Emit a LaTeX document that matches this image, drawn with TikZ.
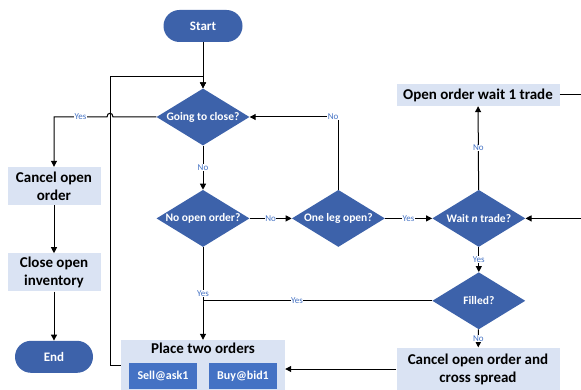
\documentclass[tikz,border=0pt]{standalone}
\usepackage{fontspec}
\setmainfont{Carlito}
\usepackage{tikz}
\usetikzlibrary{positioning, shapes.geometric, arrows.meta, calc}

\definecolor{darkblue}{RGB}{61,98,170}
\definecolor{midblue}{RGB}{68,114,196}
\definecolor{paleblue}{RGB}{218,227,243}

\begin{document}
\begin{tikzpicture}[x=1pt, y=-1pt,
            decision/.style={diamond, aspect=1.63, fill=darkblue, text=white, font=\bfseries\fontsize{11.5}{13}\selectfont, minimum width=93pt, minimum height=57pt, inner sep=0pt},
            terminal/.style={rectangle, rounded corners=16pt, fill=darkblue, text=white, font=\bfseries\fontsize{13}{15}\selectfont, minimum width=79pt, minimum height=32pt},
            process/.style={rectangle, fill=paleblue, font=\bfseries\fontsize{15}{18}\selectfont, align=center, inner sep=2pt},
            subbox/.style={rectangle, fill=midblue, text=white, font=\bfseries\fontsize{12}{14}\selectfont, minimum width=68pt, minimum height=26pt},
            flow/.style={line width=1pt, -{Triangle[length=6pt, width=6pt]}},
            plain/.style={line width=1pt},
            flowlabel/.style={fill=white, text=midblue, font=\fontsize{9}{10}\selectfont, inner sep=0.5pt}
        ]

        \useasboundingbox (0,0) rectangle (581,390);
        \clip (0,0) rectangle (581,390);

        % Knoten
        \node[terminal] (start) at (203,26) {Start};
        \node[decision] (going) at (203,117) {Going to close?};
        \node[decision, below=44pt of going] (noopen) {No open order?};
        \node[decision, right=42pt of noopen] (oneleg) {One leg open?};
        \node[decision, right=47pt of oneleg] (wait) {Wait \textit{n} trade?};
        \node[decision, below=25pt of wait] (filled) {Filled?};
        \node[process, minimum width=163pt, minimum height=22pt] (openwait) at (478,95) {Open order wait 1 trade};
        \node[process, minimum width=163pt, minimum height=43pt] (cross) at (478,369) {Cancel open order and\\cross spread};
        \node[process, minimum width=164pt, minimum height=50pt] (place) at (203,365) {};
        \node[font=\bfseries\fontsize{15}{18}\selectfont, below=0pt of place.north] (placetitle) {Place two orders};
        \node[subbox] (sell) at (163,376) {Sell@ask1};
        \node[subbox] (buy) at (243,376) {Buy@bid1};
        \node[process, minimum width=93pt, minimum height=38pt] (cancel) at (54,186) {Cancel open\\order};
        \node[process, minimum width=93pt, minimum height=38pt, below=48pt of cancel] (closeinv) {Close open\\inventory};
        \node[terminal, minimum width=78pt, below=49pt of closeinv] (end) {End};

        \coordinate (loop) at (110,77);
        \coordinate (rtop) at (595,95);

        % Kanten
        \draw[flow] (start) -- (going);
        \draw[flow] (place.west) -| (loop) -| (going.north);
        \draw[flow] (going.west) -- (113,117) .. controls (113,112) and (107,112) .. (107,117) -| (cancel.north) node[flowlabel, pos=0.25] {Yes};
        \draw[flow] (going) -- (noopen) node[flowlabel, midway] {No};
        \draw[flow] (noopen) -- (oneleg) node[flowlabel, midway] {No};
        \draw[flow] (oneleg.north) |- (going.east) node[flowlabel, pos=0.53] {No};
        \draw[flow] (oneleg) -- (wait) node[flowlabel, midway] {Yes};
        \draw[flow] (wait) -- (openwait) node[flowlabel, midway] {No};
        \draw[flow] (wait) -- (filled) node[flowlabel, midway] {Yes};
        \draw[flow] (filled) -- (cross) node[flowlabel, midway] {No};
        \draw[flow] (noopen) -- (place) node[flowlabel, midway] {Yes};
        \draw[plain] (filled.west) -- (filled.west -| noopen.south) node[flowlabel, pos=0.59] {Yes};
        \draw[flow] (cross.west) -- (cross.west -| place.east);
        \draw[flow] (openwait.east) -- (rtop) |- (wait.east);
        \draw[flow] (cancel) -- (closeinv);
        \draw[flow] (closeinv) -- (end);

    \end{tikzpicture}
\end{document}
